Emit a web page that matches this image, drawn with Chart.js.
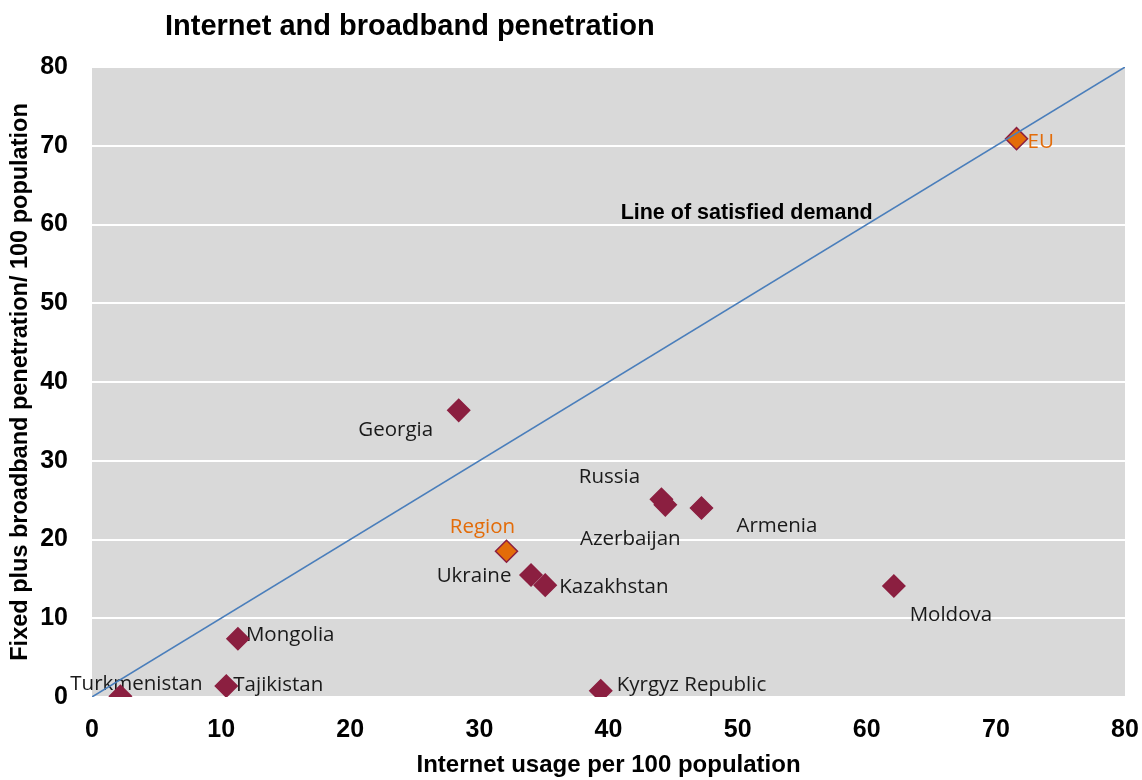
<!DOCTYPE html>
<html>
<head>
<meta charset="utf-8">
<script src="https://cdn.jsdelivr.net/npm/chart.js@4/dist/chart.umd.min.js"></script>
<style>
	html, body { margin: 0; padding: 0; background: #ffffff; }
	#wrap { width: 1142px; height: 780px; }
</style>
</head>
<body>
<div id="wrap"><canvas id="grafica"></canvas></div>
<script>
// datos
var paises = ["EU", "Georgia", "Russia", "Azerbaijan", "Armenia", "Region", "Ukraine", "Kazakhstan", "Moldova", "Mongolia", "Tajikistan", "Turkmenistan", "Kyrgyz Republic"];
var uso_internet = [71.6, 28.4, 44.1, 44.4, 47.2, 32.1, 34.0, 35.1, 62.1, 11.3, 10.4, 2.2, 39.4];
var banda_ancha = [70.9, 36.4, 25.1, 24.4, 24.0, 18.5, 15.5, 14.2, 14.1, 7.4, 1.4, 0.1, 0.8];
var linea_x = [0, 80];
var linea_y = [0, 80];
var ticks_ejes = [0, 10, 20, 30, 40, 50, 60, 70, 80];

var titulo = "Internet and broadband penetration";
var titulo_x = "Internet usage per 100 population";
var titulo_y = "Fixed plus broadband penetration/ 100 population";
var txt_linea = "Line of satisfied demand";

var MARRON = "#8B1F40";
var NARANJA = "#E36C09";

// colocacion de las etiquetas respecto al punto (px)
var pos_etiquetas = {
	"EU": { dx: 11, dy: 3, align: "left" },
	"Georgia": { dx: -63, dy: 20, align: "center" },
	"Russia": { dx: -52, dy: -22, align: "center" },
	"Azerbaijan": { dx: -35, dy: 34, align: "center" },
	"Armenia": { dx: 35, dy: 18, align: "left" },
	"Region": { dx: -24, dy: -24, align: "center" },
	"Ukraine": { dx: -57, dy: 1, align: "center" },
	"Kazakhstan": { dx: 14, dy: 2, align: "left" },
	"Moldova": { dx: 57, dy: 29, align: "center" },
	"Mongolia": { dx: 8, dy: -4, align: "left" },
	"Tajikistan": { dx: 7, dy: -1, align: "left" },
	"Turkmenistan": { dx: 16, dy: -12, align: "center" },
	"Kyrgyz Republic": { dx: 16, dy: -6, align: "left" }
};

var destacados = ["EU", "Region"];

var puntos = paises.map(function (p, i) { return { x: uso_internet[i], y: banda_ancha[i] }; });
var puntos_linea = linea_x.map(function (v, i) { return { x: v, y: linea_y[i] }; });

var colores_relleno = paises.map(function (p) { return destacados.indexOf(p) >= 0 ? NARANJA : MARRON; });

var fondoPlugin = {
	id: 'fondo',
	beforeDraw: function (chart) {
		var ctx = chart.ctx, a = chart.chartArea;
		ctx.save();
		ctx.fillStyle = "#D9D9D9";
		ctx.fillRect(a.left, a.top, a.right - a.left, a.bottom - a.top);
		ctx.restore();
	}
};

var textosPlugin = {
	id: 'textos',
	beforeDatasetsDraw: function (chart) {
		var ctx = chart.ctx;
		var meta = chart.getDatasetMeta(0);
		ctx.save();
		ctx.font = "20.5px 'Open Sans', sans-serif";
		ctx.textBaseline = "middle";
		meta.data.forEach(function (el, i) {
			var nombre = paises[i];
			var p = pos_etiquetas[nombre];
			ctx.fillStyle = destacados.indexOf(nombre) >= 0 ? NARANJA : "#1a1a1a";
			ctx.textAlign = p.align;
			ctx.fillText(nombre, el.x + p.dx, el.y + p.dy);
		});
		// texto de la linea
		var sx = chart.scales.x, sy = chart.scales.y;
		ctx.font = "bold 21.5px 'Liberation Sans', Arial, sans-serif";
		ctx.fillStyle = "#000";
		ctx.textAlign = "center";
		ctx.fillText(txt_linea, sx.getPixelForValue(50.7), sy.getPixelForValue(61.5));
		// titulo
		ctx.font = "bold 29px 'Liberation Sans', sans-serif";
		ctx.textAlign = "left";
		ctx.fillText(titulo, 165, 27);
		ctx.restore();
	}
};

var ctx_canvas = document.getElementById('grafica').getContext('2d');

var grafica = new Chart(ctx_canvas, {
	type: 'scatter',
	data: {
		datasets: [{
			label: "Countries",
			data: puntos,
			pointStyle: 'rectRot',
			pointRadius: 11,
			pointHoverRadius: 11,
			backgroundColor: colores_relleno,
			borderColor: MARRON,
			borderWidth: 1.5,
			order: 1
		}, {
			type: 'line',
			label: txt_linea,
			data: puntos_linea,
			borderColor: "#4A7EBB",
			borderWidth: 1.5,
			pointRadius: 0,
			fill: false,
			order: 0
		}]
	},
	options: {
		responsive: true,
		maintainAspectRatio: false,
		animation: false,
		layout: {
			padding: { top: 67, right: 17, left: 0, bottom: 0 }
		},
		plugins: {
			legend: { display: false },
			tooltip: { enabled: false },
			title: { display: false }
		},
		scales: {
			x: {
				type: 'linear',
				min: 0,
				max: 80,
				afterBuildTicks: function (s) { s.ticks = ticks_ejes.map(function (v) { return { value: v }; }); },
				afterFit: function (s) { s.height = 83; s.paddingLeft = 0; s.paddingRight = 0; },
				grid: { display: false, drawTicks: false },
				border: { display: false },
				ticks: {
					padding: 18,
					color: "#000",
					font: { family: "'Liberation Sans'", size: 25, weight: 'bold' }
				},
				title: {
					display: true,
					text: titulo_x,
					color: "#000",
					font: { family: "'Liberation Sans'", size: 24, weight: 'bold' },
					padding: { top: 0, bottom: 0 }
				}
			},
			y: {
				type: 'linear',
				min: 0,
				max: 80,
				afterBuildTicks: function (s) { s.ticks = ticks_ejes.map(function (v) { return { value: v }; }); },
				afterFit: function (s) { s.width = 92; },
				grid: { color: "#FFFFFF", lineWidth: 2, drawTicks: false },
				border: { display: false },
				ticks: {
					padding: 24,
					color: "#000",
					font: { family: "'Liberation Sans'", size: 25, weight: 'bold' }
				},
				title: {
					display: true,
					text: titulo_y,
					color: "#000",
					font: { family: "'Liberation Sans'", size: 23.5, weight: 'bold' },
					padding: { top: 6, bottom: 0 }
				}
			}
		}
	},
	plugins: [fondoPlugin, textosPlugin]
});
</script>
</body>
</html>
